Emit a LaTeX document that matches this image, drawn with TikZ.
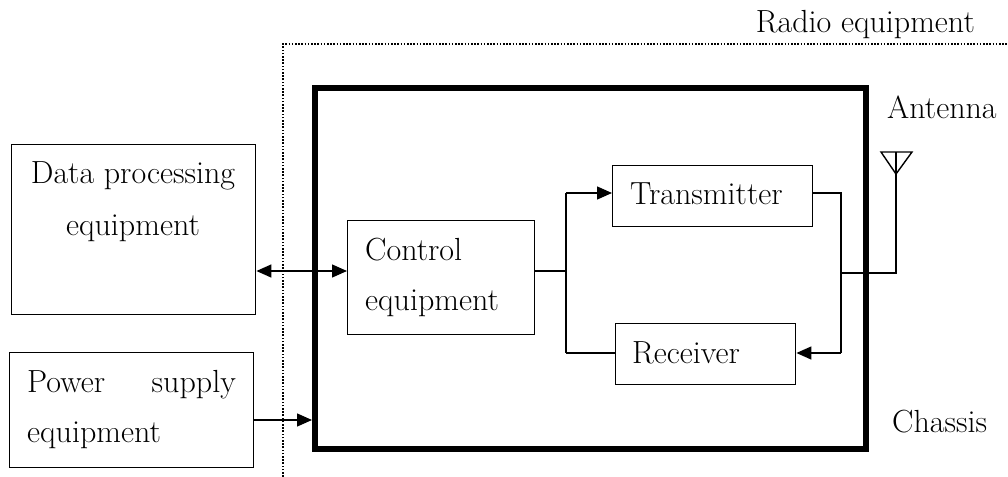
\documentclass[tikz,border=0pt]{standalone}
\usetikzlibrary{arrows.meta}
\begin{document}
\begin{tikzpicture}[x=1pt,y=-1pt,
  thin line/.style={line width=1.4pt},
  box/.style={draw, line width=1.4pt, inner sep=0pt, anchor=north west},
  lbl/.style={inner sep=0pt, font=\fontsize{32}{38}\selectfont},
  arr/.style={thin line, -{Triangle[length=15pt,width=13pt]}},
  biarr/.style={thin line, {Triangle[length=15pt,width=13pt]}-{Triangle[length=15pt,width=13pt]}},
  chassis/.style={draw, line width=5.7pt},
  radio/.style={line width=1.6pt, dash pattern=on 1.6pt off 1.6pt}]
\useasboundingbox (0,0) rectangle (1008,476);

% radio equipment boundary
\coordinate (rb) at (283,480);
\coordinate (rc) at (283,44);
\coordinate (rr) at (1010,44);
\draw[radio] (rb) -- (rc) -- (rr);
\node[lbl, anchor=base east] (radiolbl) at (975,33) {Radio equipment};

% chassis
\node[chassis, inner sep=0pt, anchor=north west, minimum width=551pt, minimum height=361pt] (chas) at (312,85) {};
\node[lbl, anchor=base west] (chaslbl) at (892,432) {Chassis};

% external boxes
\node[box, minimum width=244pt, minimum height=170pt] (data) at (11,144) {};
\node[lbl, anchor=base] (data1) at (133,183) {Data processing};
\node[lbl, anchor=base] (data2) at (133,235) {equipment};

\node[box, minimum width=244pt, minimum height=115pt] (power) at (9,352) {};
\node[lbl, anchor=base west] (pow1) at (27,392) {Power};
\node[lbl, anchor=base east] (pow2) at (236,392) {supply};
\node[lbl, anchor=base west] (pow3) at (27,442) {equipment};

% internal boxes
\node[box, minimum width=187pt, minimum height=114pt] (ctrl) at (347,220) {};
\node[lbl, anchor=base west] (ctrl1) at (365,260) {Control};
\node[lbl, anchor=base west] (ctrl2) at (365,310) {equipment};

\node[box, minimum width=200pt, minimum height=61pt] (tx) at (612,165) {};
\node[lbl, anchor=base west] (txl) at (630,204) {Transmitter};

\node[box, minimum width=180pt, minimum height=61pt] (rx) at (615,323) {};
\node[lbl, anchor=base west] (rxl) at (632,363) {Receiver};

% antenna
\coordinate (antL) at (881,152);
\coordinate (antR) at (912,152);
\coordinate (antA) at (896,174);
\coordinate (antT) at (896,152);
\coordinate (antB) at (896,273);
\draw[thin line] (antL) -- (antR) -- (antA) -- cycle;
\node[lbl, anchor=base west] (antlbl) at (887,118) {Antenna};

% connectors
\draw[biarr] (data.east |- 0,271) -- (ctrl.west |- 0,271);
\draw[arr] (power.east |- 0,420) -- (chas.west |- 0,420);

\coordinate (split) at (566,271);
\coordinate (splitT) at (566,193);
\coordinate (splitB) at (566,353);
\draw[thin line] (ctrl.east |- split) -- (split);
\draw[thin line] (splitT) -- (splitB);
\draw[arr] (splitT) -- (tx.west |- splitT);
\draw[thin line] (splitB) -- (rx.west |- splitB);

\coordinate (busT) at (841,193);
\coordinate (busB) at (841,353);
\coordinate (busM) at (841,273);
\draw[thin line] (tx.east |- busT) -- (busT) -- (busB);
\draw[arr] (busB) -- (rx.east |- busB);
\draw[thin line] (busM) -- (antB) -- (antT);
\end{tikzpicture}
\end{document}
